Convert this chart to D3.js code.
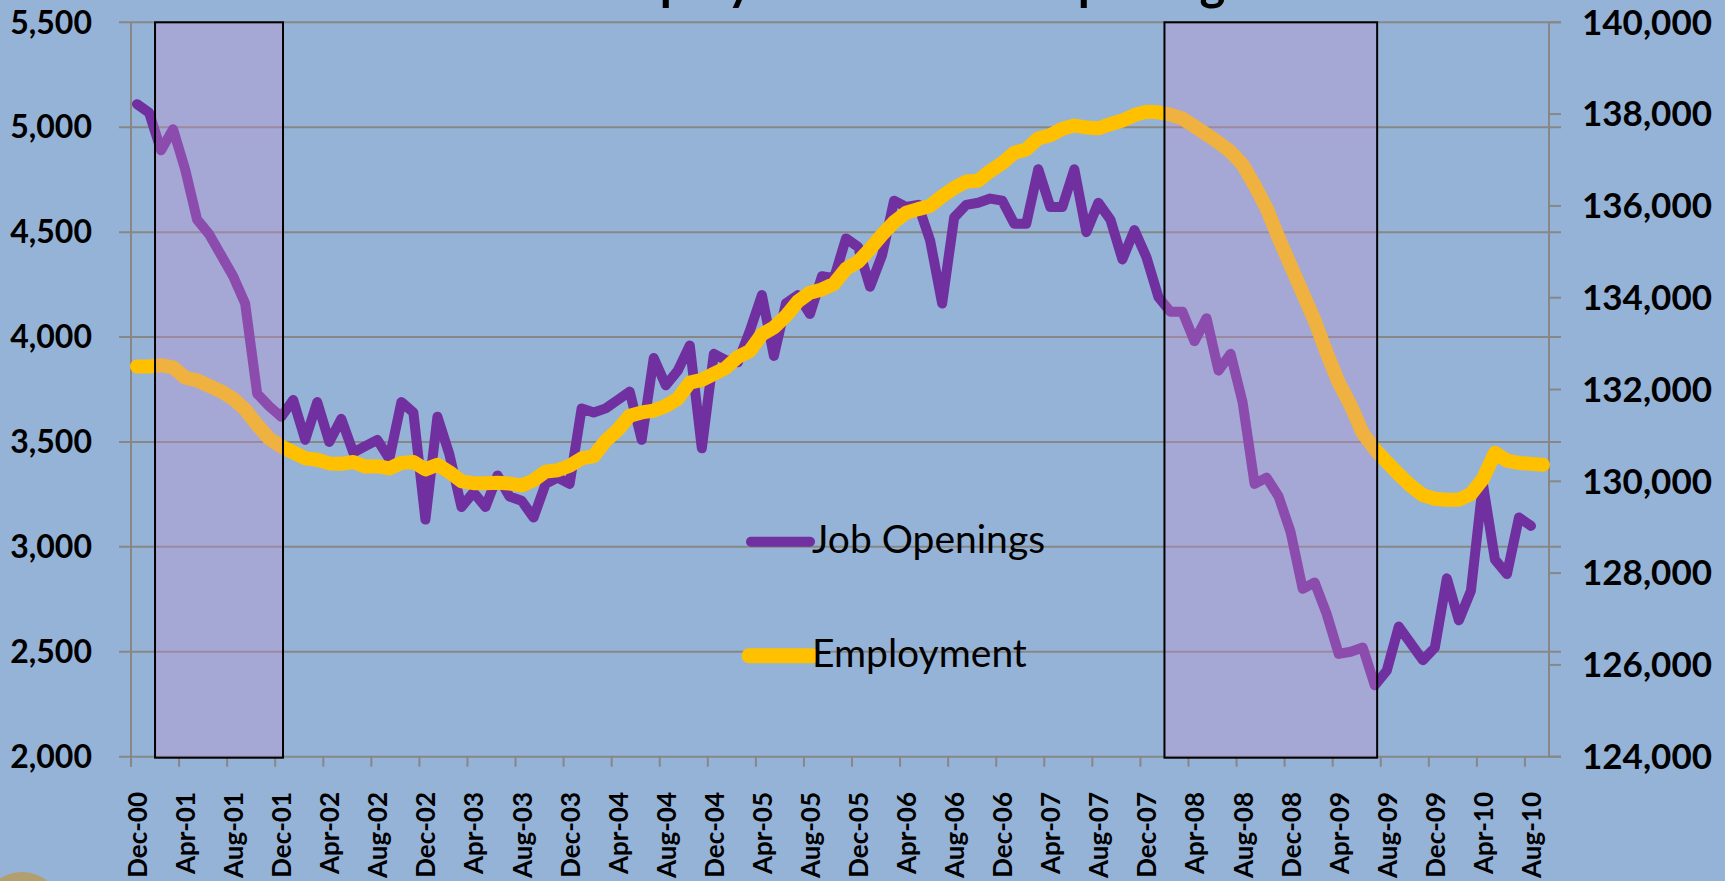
<!DOCTYPE html>
<html>
<head>
<meta charset="utf-8">
<script src="https://cdn.jsdelivr.net/npm/d3@7"></script>
<style>
	html, body { margin: 0; padding: 0; background: #95b3d7; overflow: hidden; }
	svg { display: block; }
</style>
</head>
<body>
<svg id="chart" width="1725" height="881"></svg>
<script>
// Monthly series, first value is Dec-00
const startMonth = new Date(2000, 11, 1)
const nMonths = 118   // Dec-00 .. Sep-10

// Job openings, thousands (left axis), Dec-00 .. Aug-10
const jobOpenings = [
	5110,
	5070, 4890, 4990, 4800, 4560, 4490, 4390, 4290, 4160, 3730, 3670, 3620,
	3700, 3510, 3690, 3500, 3610, 3450, 3480, 3510, 3420, 3690, 3640, 3130,
	3620, 3440, 3190, 3260, 3190, 3340, 3240, 3220, 3140, 3300, 3330, 3300,
	3660, 3640, 3660, 3700, 3740, 3510, 3900, 3770, 3840, 3960, 3470, 3920,
	3890, 3880, 4030, 4200, 3910, 4160, 4200, 4110, 4290, 4280, 4470, 4430,
	4240, 4390, 4650, 4620, 4630, 4460, 4160, 4570, 4630, 4640, 4660, 4650,
	4540, 4540, 4800, 4620, 4620, 4800, 4500, 4640, 4560, 4370, 4510, 4380,
	4190, 4120, 4120, 3980, 4090, 3840, 3920, 3690, 3300, 3330, 3240, 3070,
	2800, 2830, 2680, 2490, 2500, 2520, 2340, 2410, 2620, 2540, 2460, 2520,
	2850, 2650, 2790, 3300, 2940, 2870, 3140, 3100
]

// Nonfarm employment, thousands (right axis), Dec-00 .. Sep-10
const employment = [
	132500,
	132500, 132530, 132480, 132260, 132200, 132080, 131960, 131800, 131560, 131230, 130930, 130760,
	130630, 130500, 130470, 130390, 130380, 130420, 130320, 130330, 130280, 130400, 130420, 130260,
	130360, 130200, 130000, 129960, 129960, 129970, 129950, 129910, 130020, 130210, 130240, 130340,
	130500, 130550, 130880, 131120, 131430, 131500, 131540, 131640, 131800, 132150, 132210, 132340,
	132470, 132710, 132840, 133200, 133350, 133600, 133920, 134110, 134180, 134300, 134630, 134780,
	135060, 135370, 135650, 135850, 135930, 136000, 136210, 136390, 136530, 136550, 136760, 136930,
	137160, 137230, 137470, 137540, 137680, 137750, 137710, 137690, 137780, 137860, 137980, 138050,
	138040, 137990, 137900, 137730, 137560, 137380, 137180, 136900, 136450, 135950, 135300, 134700,
	134100, 133500, 132800, 132150, 131650, 131050, 130700, 130420, 130150, 129900, 129700, 129620,
	129600, 129600, 129720, 130050, 130620, 130450, 130400, 130380, 130360
]

// Recession bands, in months after Dec-00 (tick positions)
const recessions = [[2, 12.65], [86, 103.7]]

const leftTicks = [2000, 2500, 3000, 3500, 4000, 4500, 5000, 5500]
const rightTicks = [124000, 126000, 128000, 130000, 132000, 134000, 136000, 138000, 140000]
const legendItems = ['Job Openings', 'Employment']
const titleText = 'Employment and Job Openings'

const W = 1725, H = 881
const plot = { left: 131, right: 1549, top: 22.3, bottom: 756.7 }
const purple = '#7030a0', gold = '#ffc000', gridCol = '#878787'
const font = 'Lato, "Open Sans", sans-serif'

const svg = d3.select('#chart')

const monthOf = i => d3.timeMonth.offset(startMonth, i)

// month slots: tick at slot start, point in the middle of the slot
const x = d3.scaleLinear().domain([0, nMonths]).range([plot.left, plot.right])
const xPt = i => x(i + 0.5)
const yL = d3.scaleLinear().domain([2000, 5500]).range([plot.bottom, plot.top])
const yR = d3.scaleLinear().domain([124000, 140000]).range([plot.bottom, plot.top])

// background
svg.append('rect').attr('width', W).attr('height', H).attr('fill', '#95b3d7')

// corner of the seal that peeks in bottom-left
svg.append('circle').attr('cx', 22).attr('cy', 912).attr('r', 40)
	.attr('fill', '#b89a5a').attr('opacity', 0.85)

// title (mostly cut off at top, as in the original)
svg.append('text')
	.attr('x', 919).attr('y', 0)
	.attr('text-anchor', 'middle')
	.style('font-family', font).style('font-weight', 'bold').style('font-size', '49px')
	.style('word-spacing', '-6px')
	.text(titleText)

// gridlines
svg.append('g').selectAll('line').data(leftTicks).join('line')
	.attr('x1', plot.left - 12).attr('x2', plot.right + 12)
	.attr('y1', d => yL(d)).attr('y2', d => yL(d))
	.attr('stroke', gridCol).attr('stroke-width', 2)

// axis lines
svg.append('line').attr('x1', plot.left).attr('x2', plot.left)
	.attr('y1', plot.top).attr('y2', plot.bottom + 10)
	.attr('stroke', gridCol).attr('stroke-width', 2)
svg.append('line').attr('x1', plot.right).attr('x2', plot.right)
	.attr('y1', plot.top).attr('y2', plot.bottom)
	.attr('stroke', gridCol).attr('stroke-width', 2)

// left labels
svg.append('g').selectAll('text').data(leftTicks).join('text')
	.attr('x', 92).attr('y', d => yL(d)).attr('dy', '0.35em')
	.attr('text-anchor', 'end')
	.style('font-family', font).style('font-weight', 'bold').style('font-size', '32px')
	.text(d => d3.format(',')(d))

// right ticks + labels
svg.append('g').selectAll('line').data(rightTicks).join('line')
	.attr('x1', plot.right).attr('x2', plot.right + 12)
	.attr('y1', d => yR(d)).attr('y2', d => yR(d))
	.attr('stroke', gridCol).attr('stroke-width', 2)
svg.append('g').selectAll('text').data(rightTicks).join('text')
	.attr('x', 1582).attr('y', d => yR(d)).attr('dy', '0.35em')
	.style('font-family', font).style('font-weight', 'bold').style('font-size', '35px')
	.text(d => d3.format(',')(d))

// bottom ticks + labels every 4 months
const xTicks = d3.range(0, nMonths, 4)
svg.append('g').selectAll('line').data(xTicks).join('line')
	.attr('x1', d => x(d)).attr('x2', d => x(d))
	.attr('y1', plot.bottom).attr('y2', plot.bottom + 10)
	.attr('stroke', gridCol).attr('stroke-width', 2)
svg.append('g').selectAll('text').data(xTicks).join('text')
	.attr('transform', d => `translate(${x(d) + 16},792) rotate(-90)`)
	.attr('text-anchor', 'end')
	.style('font-family', font).style('font-weight', 'bold').style('font-size', '26px')
	.text(d => d3.timeFormat('%b-%y')(monthOf(d)))

// series
const lineJ = d3.line().x((d, i) => xPt(i)).y(d => yL(d))
const lineE = d3.line().x((d, i) => xPt(i)).y(d => yR(d))

svg.append('path').datum(jobOpenings).attr('d', lineJ)
	.attr('fill', 'none').attr('stroke', purple).attr('stroke-width', 10)
	.attr('stroke-linejoin', 'round').attr('stroke-linecap', 'round')
svg.append('path').datum(employment).attr('d', lineE)
	.attr('fill', 'none').attr('stroke', gold).attr('stroke-width', 14)
	.attr('stroke-linejoin', 'round').attr('stroke-linecap', 'round')

// recession shading, drawn over the lines
svg.append('g').selectAll('rect').data(recessions).join('rect')
	.attr('x', d => x(d[0]))
	.attr('width', d => x(d[1]) - x(d[0]))
	.attr('y', plot.top).attr('height', plot.bottom - plot.top + 1)
	.attr('fill', 'rgba(202,142,208,0.3)')
	.attr('stroke', '#000').attr('stroke-width', 2)

// legend
const legend = svg.append('g')
legend.append('line').attr('x1', 751).attr('x2', 810).attr('y1', 541.7).attr('y2', 541.7)
	.attr('stroke', purple).attr('stroke-width', 10).attr('stroke-linecap', 'round')
legend.append('line').attr('x1', 749).attr('x2', 812).attr('y1', 655.7).attr('y2', 655.7)
	.attr('stroke', gold).attr('stroke-width', 15).attr('stroke-linecap', 'round')
legend.selectAll('text').data(legendItems).join('text')
	.attr('x', 812).attr('y', (d, i) => i === 0 ? 553 : 667)
	.style('font-family', font).style('font-size', '39px')
	.text(d => d)
</script>
</body>
</html>
